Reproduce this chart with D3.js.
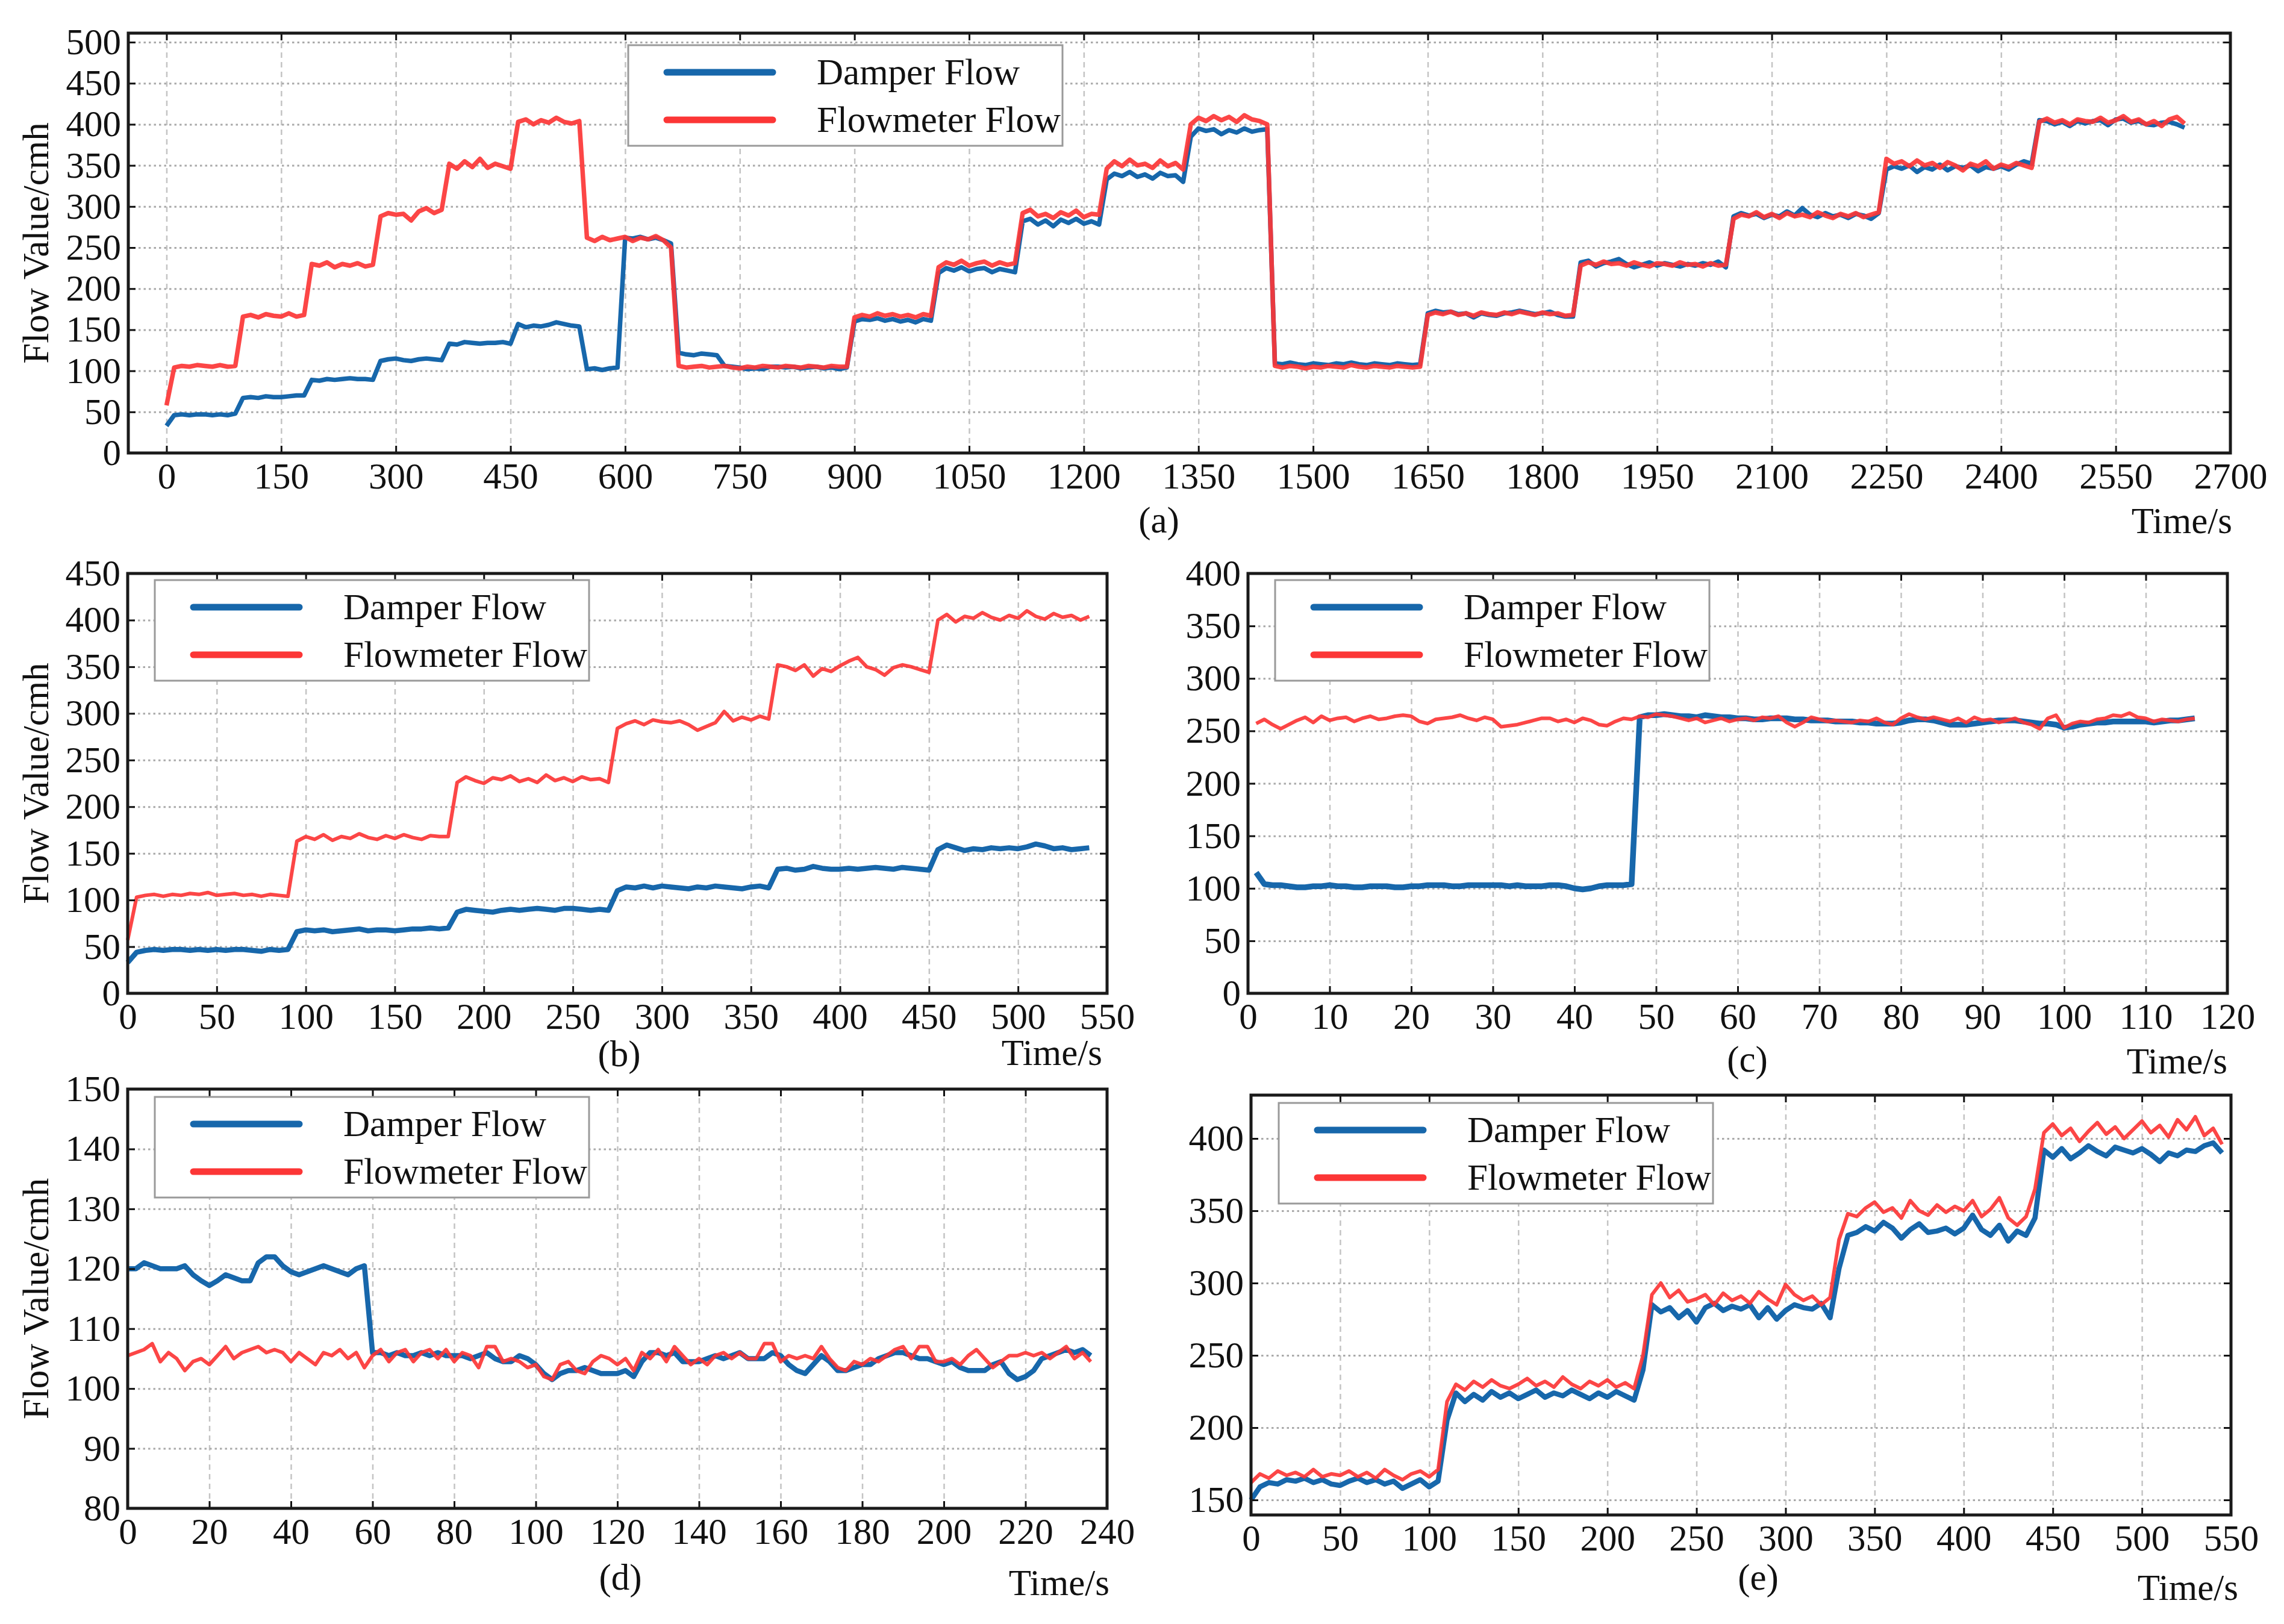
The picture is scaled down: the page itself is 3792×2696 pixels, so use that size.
<!DOCTYPE html>
<html>
<head>
<meta charset="utf-8">
<script src="https://cdn.jsdelivr.net/npm/d3@7"></script>
<style>
  html, body { margin: 0; padding: 0; background: #fff; }
  svg { display: block; font-family: "Liberation Serif", "Times New Roman", serif; }
</style>
</head>
<body>
<svg id="chart" width="3792" height="2696"></svg>
<script>
const seriesNames = ["Damper Flow", "Flowmeter Flow"];
const seriesColors = ["#1767ab", "#fc3636"];

// (a) full run, one reading every 10 s from t = 0
const aDamper = [
  33,46,47,46,47,47,46,47,46,48,
  67,68,67,69,68,68,69,70,70,89,
  88,90,89,90,91,90,90,89,112,114,
  115,113,112,114,115,114,113,133,132,135,
  134,133,134,134,135,133,157,153,155,154,
  156,159,157,155,154,102,103,101,103,104,
  262,261,263,260,262,259,255,122,120,119,
  121,120,119,106,105,104,102,103,102,105,
  105,104,105,103,104,105,103,104,102,104,
  160,163,162,164,161,163,160,162,159,163,
  161,219,225,222,226,221,224,225,220,224,
  222,220,282,285,278,283,276,284,280,285,
  279,282,278,333,340,337,342,336,339,334,
  341,337,338,330,385,395,392,394,388,393,
  390,395,391,393,394,109,108,110,108,107,
  109,108,107,109,108,110,108,107,109,108,
  107,109,108,107,108,170,173,171,172,169,
  170,165,170,168,167,170,171,173,171,169,
  170,172,168,166,166,232,234,227,231,233,
  236,230,226,229,232,228,231,229,227,230,
  228,231,229,233,226,288,292,289,291,286,
  290,288,294,289,298,290,287,292,288,290,
  286,291,289,285,292,345,349,346,350,342,
  348,345,351,344,349,347,350,343,348,346,
  349,345,351,355,352,405,404,400,403,398,
  404,401,404,405,399,406,407,402,404,400,
  399,402,403,400,396
];
const aMeter = [
  58,104,106,105,107,106,105,107,105,106,
  166,168,165,169,167,166,170,166,168,230,
  228,232,226,230,228,231,227,229,288,292,
  290,291,283,294,298,292,296,352,346,355,
  348,358,347,352,349,346,403,406,400,405,
  402,408,403,401,404,262,258,263,259,261,
  263,258,262,260,264,259,250,106,104,105,
  106,104,105,106,104,103,105,104,106,105,
  104,106,105,104,106,105,104,106,105,105,
  165,168,166,170,167,169,166,168,165,169,
  167,226,232,229,234,228,231,233,228,232,
  229,231,292,296,288,291,286,293,289,295,
  287,291,290,346,355,349,357,350,352,347,
  356,349,353,345,400,408,404,410,405,409,
  403,411,406,404,400,106,104,106,105,103,
  105,104,106,105,104,107,105,104,106,105,
  104,106,105,104,105,168,171,169,172,168,
  170,167,171,169,168,171,169,172,170,168,
  171,169,170,167,168,228,232,229,233,230,
  231,228,232,229,227,231,230,228,232,229,
  230,227,231,228,229,285,290,288,293,287,
  291,286,292,288,290,287,293,289,286,291,
  288,292,287,290,293,358,352,355,349,356,
  350,353,347,354,350,344,352,349,355,346,
  351,348,353,350,347,403,407,402,405,400,
  406,404,403,408,402,405,410,403,406,400,
  404,398,406,409,401
];

// (b) one reading every 5 s from t = 0
const bDamper = [
  33,44,46,47,46,47,47,46,47,46,
  47,46,47,47,46,45,47,46,47,66,
  68,67,68,66,67,68,69,67,68,68,
  67,68,69,69,70,69,70,87,90,89,
  88,87,89,90,89,90,91,90,89,91,
  91,90,89,90,89,110,114,113,115,113,
  115,114,113,112,114,113,115,114,113,112,
  114,115,113,133,134,132,133,136,134,133,
  133,134,133,134,135,134,133,135,134,133,
  132,154,159,156,153,155,154,156,155,156,
  155,157,160,158,155,156,154,155,156
];
const bMeter = [
  57,103,105,106,104,106,105,107,106,108,
  105,106,107,105,106,104,106,105,104,163,
  168,165,170,164,168,166,171,167,165,169,
  166,170,167,165,169,168,168,226,232,228,
  225,231,229,233,227,230,226,234,228,231,
  227,232,229,230,226,284,289,292,288,293,
  291,290,292,288,282,286,290,302,292,296,
  293,297,294,352,350,346,352,340,348,345,
  351,356,360,350,347,341,349,352,350,347,
  344,400,406,398,404,402,408,403,400,405,
  402,410,404,401,407,403,405,400,404
];

// (c) one reading every 1 s from t = 1
const cDamper = [
  115,104,103,103,102,101,101,102,102,103,
  102,102,101,101,102,102,102,101,101,102,
  102,103,103,103,102,102,103,103,103,103,
  103,102,103,102,102,102,103,103,102,100,
  99,100,102,103,103,103,104,263,265,265,
  266,265,264,264,263,265,264,263,263,262,
  262,261,261,262,262,262,261,261,260,260,
  260,259,259,259,258,258,257,257,257,258,
  260,261,261,260,258,256,256,256,257,258,
  259,260,260,260,259,258,257,257,256,253,
  254,256,257,258,258,259,259,259,259,259,
  258,259,260,260,261,262
];
const cMeter = [
  257,261,256,252,256,260,263,258,264,260,
  262,263,259,262,264,261,262,264,265,264,
  259,257,261,262,263,265,262,260,263,261,
  254,255,256,258,260,262,262,259,261,258,
  262,260,256,255,259,262,261,264,263,266,
  265,264,262,260,262,258,260,262,259,261,
  262,260,263,262,264,258,254,258,263,261,
  259,260,259,258,260,259,262,258,256,262,
  266,263,261,263,261,259,262,258,263,260,
  261,258,260,262,258,256,252,262,265,253,
  257,259,258,261,262,265,264,267,263,262,
  259,261,260,259,261,262
];

// (d) one reading every 2 s from t = 0
const dDamper = [
  120,120,121,120.5,120,120,120,120.5,119,118,
  117.2,118,119,118.5,118,118,121,122,122,120.5,
  119.5,119,119.5,120,120.5,120,119.5,119,120,120.5,
  106,106,105.5,106,105.5,105.5,106,105.5,106,105.5,
  105.5,105.5,105,105.5,106,105,104.5,104.5,105.5,105,
  104,102.5,101.5,102.5,103,103,103.5,103,102.5,102.5,
  102.5,103,102,104.5,106,106,105.5,106,104.5,104.5,
  104.5,105,105.5,105,105.5,106,105,105,105,106,
  105.5,104,103,102.5,104,105.5,104.5,103,103,103.5,
  104,104,105,105.5,106,106,105.5,105,105,104.5,
  104,104.5,103.5,103,103,103,104,104.5,102.5,101.5,
  102,103,105,105.5,106,106.5,106,106.5,105.5
];
const dMeter = [
  105.5,106,106.5,107.5,104.5,106,105,103,104.5,105,
  104,105.5,107,105,106,106.5,107,106,106.5,106,
  104.5,106,105,104,106,105.5,106.5,105,106,103.5,
  105.5,106.5,104.5,106,106.5,104.5,106,106.5,105,106.5,
  104.5,106,105.5,103.5,107,107,104.5,105,104.5,103.5,
  104,102,101.5,104,104.5,103,102.5,104.5,105.5,105,
  104,105,103,106,105,106.5,104.5,107,105.5,104,
  105,104,105.5,106,105,106,105,105,107.5,107.5,
  104.5,105.5,105,105.5,105,107,105,103.5,103,104.5,
  104,105,104.5,105.5,106.5,107,105,107,107,104.5,
  104.5,105,104,105.5,106.5,105,103.5,104.5,105.5,105.5,
  106,105.5,106,105,106,107,105,106,104.5
];

// (e) one reading every 5 s from t = 0
const eDamper = [
  150,159,162,161,164,163,165,162,164,161,
  160,163,165,162,164,161,163,158,161,164,
  159,163,205,224,218,223,219,225,221,224,
  220,223,226,221,224,222,226,223,220,224,
  221,225,222,219,240,285,280,283,276,281,
  273,283,286,281,284,282,285,276,283,275,
  281,285,283,282,286,276,310,333,335,339,
  336,342,338,331,337,341,335,336,338,334,
  338,347,337,333,340,329,336,333,345,392,
  387,393,386,390,395,391,388,394,392,390,
  393,389,384,390,388,392,391,395,397,390
];
const eMeter = [
  162,168,165,170,167,169,166,171,166,168,
  167,170,166,169,165,171,167,164,168,170,
  166,171,218,230,226,232,228,233,229,227,
  230,234,229,232,228,235,230,227,232,229,
  233,228,231,227,250,292,300,290,295,287,
  289,292,285,293,288,291,286,294,289,285,
  299,292,288,291,285,290,330,348,346,352,
  356,349,352,345,357,350,347,354,349,353,
  350,357,346,351,359,345,340,346,365,404,
  410,402,407,398,405,411,403,408,400,406,
  412,404,409,401,413,406,415,402,407,396
];

// tick values
const aXTicks = [0,150,300,450,600,750,900,1050,1200,1350,1500,1650,1800,1950,2100,2250,2400,2550,2700];
const aYTicks = [0,50,100,150,200,250,300,350,400,450,500];
const bXTicks = [0,50,100,150,200,250,300,350,400,450,500,550];
const bYTicks = [0,50,100,150,200,250,300,350,400,450];
const cXTicks = [0,10,20,30,40,50,60,70,80,90,100,110,120];
const cYTicks = [0,50,100,150,200,250,300,350,400];
const dXTicks = [0,20,40,60,80,100,120,140,160,180,200,220,240];
const dYTicks = [80,90,100,110,120,130,140,150];
const eXTicks = [0,50,100,150,200,250,300,350,400,450,500,550];
const eYTicks = [150,200,250,300,350,400];

const FS = 61;
const svg = d3.select("#chart");

const panels = [
  {tag: "(a)", left: 213, right: 3703, top: 55, bottom: 752, xDomain: [-50, 2700], yDomain: [0, 511],
   xTicks: aXTicks, yTicks: aYTicks, t0: 0, step: 10, damper: aDamper, meter: aMeter,
   legend: [1043, 75], tagPos: [1924, 884], timePos: [3706, 885], yLabel: true, widths: [7.5, 7.5]},
  {tag: "(b)", left: 212, right: 1838, top: 952, bottom: 1649, xDomain: [0, 550], yDomain: [0, 450],
   xTicks: bXTicks, yTicks: bYTicks, t0: 0, step: 5, damper: bDamper, meter: bMeter,
   legend: [257, 963], tagPos: [1028, 1770], timePos: [1830, 1768], yLabel: true, widths: [8.5, 6]},
  {tag: "(c)", left: 2072, right: 3698, top: 952, bottom: 1649, xDomain: [0, 120], yDomain: [0, 400],
   xTicks: cXTicks, yTicks: cYTicks, t0: 1, step: 1, damper: cDamper, meter: cMeter,
   legend: [2117, 963], tagPos: [2901, 1779], timePos: [3698, 1782], yLabel: false, widths: [9.5, 6]},
  {tag: "(d)", left: 212, right: 1838, top: 1808, bottom: 2504, xDomain: [0, 240], yDomain: [80, 150],
   xTicks: dXTicks, yTicks: dYTicks, t0: 0, step: 2, damper: dDamper, meter: dMeter,
   legend: [257, 1821], tagPos: [1030, 2639], timePos: [1842, 2648], yLabel: true, widths: [8.5, 6]},
  {tag: "(e)", left: 2077, right: 3704, top: 1818, bottom: 2515, xDomain: [0, 550], yDomain: [139.6, 430],
   xTicks: eXTicks, yTicks: eYTicks, t0: 0, step: 5, damper: eDamper, meter: eMeter,
   legend: [2123, 1831], tagPos: [2919, 2639], timePos: [3716, 2656], yLabel: false, widths: [8.5, 6]}
];

function drawPanel(p) {
  const x = d3.scaleLinear().domain(p.xDomain).range([p.left, p.right]);
  const y = d3.scaleLinear().domain(p.yDomain).range([p.bottom, p.top]);
  const h = p.bottom - p.top;
  const w = p.right - p.left;
  const g = svg.append("g");

  // vertical dashed grid
  g.append("g")
    .attr("transform", `translate(0,${p.bottom})`)
    .call(d3.axisBottom(x).tickValues(p.xTicks).tickSize(-h).tickFormat(""))
    .call((s) => s.select(".domain").remove())
    .selectAll("line")
    .attr("stroke", "#c4c4c4")
    .attr("stroke-width", 2.5)
    .attr("stroke-dasharray", "9,7");

  // horizontal dotted grid
  g.append("g")
    .attr("transform", `translate(${p.left},0)`)
    .call(d3.axisLeft(y).tickValues(p.yTicks).tickSize(-w).tickFormat(""))
    .call((s) => s.select(".domain").remove())
    .selectAll("line")
    .attr("stroke", "#aaaaaa")
    .attr("stroke-width", 3)
    .attr("stroke-dasharray", "3.5,5");

  // series lines, damper under flowmeter
  const line = (arr) => d3.line()
    .x((d, i) => x(p.t0 + i * p.step))
    .y((d) => y(d))(arr);

  g.append("path")
    .attr("d", line(p.damper))
    .attr("fill", "none")
    .attr("stroke", seriesColors[0])
    .attr("stroke-width", p.widths[0])
    .attr("stroke-linejoin", "round");
  g.append("path")
    .attr("d", line(p.meter))
    .attr("fill", "none")
    .attr("stroke", seriesColors[1])
    .attr("stroke-opacity", 0.92)
    .attr("stroke-width", p.widths[1])
    .attr("stroke-linejoin", "round");

  // axes with inward ticks on all four sides
  const styleAxis = (s) => {
    s.select(".domain").remove();
    s.selectAll("line").attr("stroke", "#111").attr("stroke-width", 3);
    s.selectAll("text").attr("font-size", FS).attr("font-family", "Liberation Serif").attr("fill", "#111");
  };
  g.append("g")
    .attr("transform", `translate(0,${p.bottom})`)
    .call(d3.axisBottom(x).tickValues(p.xTicks).tickSize(-12).tickPadding(16).tickFormat(d3.format("d")))
    .call(styleAxis);
  g.append("g")
    .attr("transform", `translate(${p.left},0)`)
    .call(d3.axisLeft(y).tickValues(p.yTicks).tickSize(-12).tickPadding(12).tickFormat(d3.format("d")))
    .call(styleAxis);
  g.append("g")
    .attr("transform", `translate(0,${p.top})`)
    .call(d3.axisTop(x).tickValues(p.xTicks).tickSize(-12).tickFormat(""))
    .call(styleAxis);
  g.append("g")
    .attr("transform", `translate(${p.right},0)`)
    .call(d3.axisRight(y).tickValues(p.yTicks).tickSize(-12).tickFormat(""))
    .call(styleAxis);

  // frame
  g.append("rect")
    .attr("x", p.left)
    .attr("y", p.top)
    .attr("width", w)
    .attr("height", h)
    .attr("fill", "none")
    .attr("stroke", "#1a1a1a")
    .attr("stroke-width", 5);

  // legend
  const [lx, ly] = p.legend;
  const lg = g.append("g").attr("transform", `translate(${lx},${ly})`);
  lg.append("rect")
    .attr("width", 721)
    .attr("height", 167)
    .attr("fill", "#fff")
    .attr("stroke", "#9a9a9a")
    .attr("stroke-width", 3);
  seriesNames.forEach((name, i) => {
    const yy = 45 + i * 79;
    lg.append("line")
      .attr("x1", 64).attr("x2", 240)
      .attr("y1", yy).attr("y2", yy)
      .attr("stroke", seriesColors[i])
      .attr("stroke-width", 11)
      .attr("stroke-linecap", "round");
    lg.append("text")
      .attr("x", 313)
      .attr("y", yy)
      .attr("dy", "0.33em")
      .attr("font-size", FS)
      .attr("fill", "#111")
      .text(name);
  });

  // captions
  g.append("text")
    .attr("x", p.tagPos[0])
    .attr("y", p.tagPos[1])
    .attr("text-anchor", "middle")
    .attr("font-size", FS)
    .attr("fill", "#111")
    .text(p.tag);
  g.append("text")
    .attr("x", p.timePos[0])
    .attr("y", p.timePos[1])
    .attr("text-anchor", "end")
    .attr("font-size", FS)
    .attr("fill", "#111")
    .text("Time/s");

  if (p.yLabel) {
    g.append("text")
      .attr("transform", `translate(80,${(p.top + p.bottom) / 2}) rotate(-90)`)
      .attr("text-anchor", "middle")
      .attr("font-size", FS)
      .attr("fill", "#111")
      .text("Flow Value/cmh");
  }
}

panels.forEach(drawPanel);
</script>
</body>
</html>
